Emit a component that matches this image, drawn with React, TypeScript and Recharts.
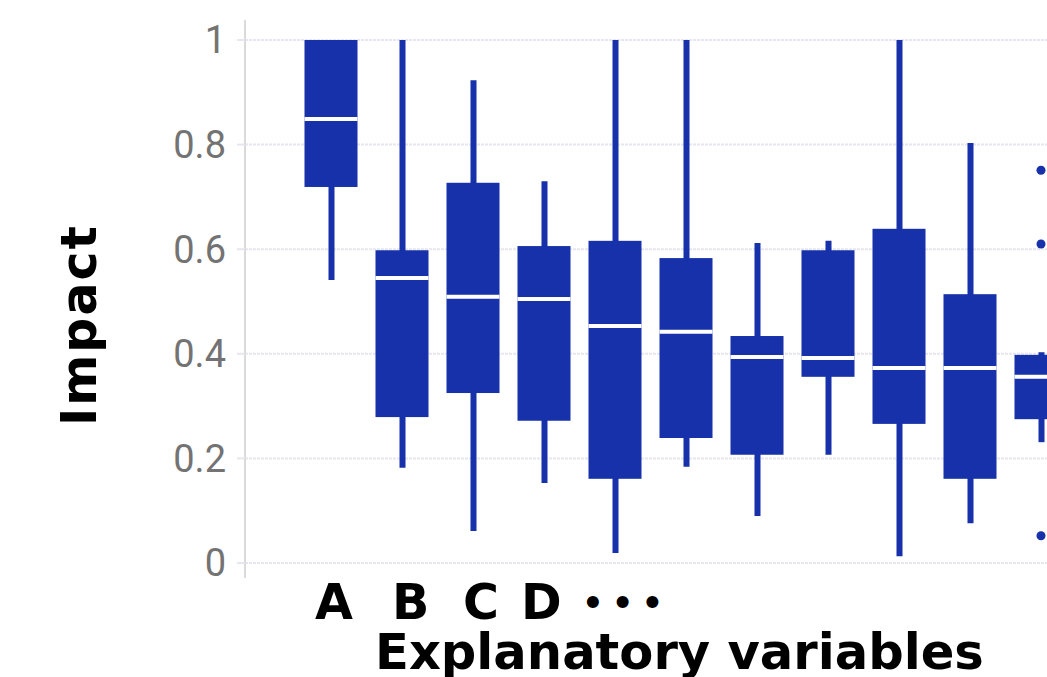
import React from 'react';
import { ComposedChart, Bar, Scatter, XAxis, YAxis, CartesianGrid } from 'recharts';

// box plot stats per explanatory variable
const categories = ['A', 'B', 'C', 'D', 'E', 'F', 'G', 'H', 'I', 'J', 'K'];
const lowWhisker = [0.541, 0.182, 0.061, 0.153, 0.019, 0.184, 0.09, 0.207, 0.013, 0.076, 0.231];
const q1 = [0.719, 0.279, 0.325, 0.272, 0.161, 0.239, 0.207, 0.356, 0.266, 0.161, 0.275];
const median = [0.849, 0.545, 0.509, 0.505, 0.453, 0.442, 0.394, 0.392, 0.373, 0.373, 0.356];
const q3 = [1.0, 0.598, 0.727, 0.606, 0.616, 0.583, 0.434, 0.598, 0.639, 0.514, 0.398];
const highWhisker = [1.0, 1.0, 0.923, 0.73, 1.0, 1.0, 0.612, 0.616, 1.0, 0.803, 0.403];

const outlierCats = ['K', 'K', 'K'];
const outlierValues = [0.751, 0.61, 0.052];

const yTicks = [0, 0.2, 0.4, 0.6, 0.8, 1];

const BLUE = '#1631a9';

const data = categories.map((name, i) => ({
  name,
  low: lowWhisker[i],
  q1: q1[i],
  median: median[i],
  q3: q3[i],
  high: highWhisker[i],
}));

const outliers = outlierCats.map((name, i) => ({ name, v: outlierValues[i] }));

const BoxShape = (props: any) => {
  const { x, y, width, height, payload } = props;
  const top = Math.min(y, y + height);
  const h = Math.abs(height);
  const span = payload.q3 - payload.q1;
  const my = span > 0 ? top + (h * (payload.q3 - payload.median)) / span : top;
  return (
    <g>
      <rect x={x} y={top} width={width} height={h} fill={BLUE} />
      <line x1={x} x2={x + width} y1={my} y2={my} stroke="#fff" strokeWidth={4} />
    </g>
  );
};

const boldFont = "'DejaVu Sans', sans-serif";

export default function App() {
  return (
    <div
      style={{
        position: 'fixed',
        left: 0,
        top: 0,
        width: 1047,
        height: 677,
        overflow: 'hidden',
        background: '#fff',
      }}
    >
      <ComposedChart
        width={1080}
        height={677}
        data={data}
        margin={{ top: 20, right: 3.5, bottom: 99, left: 0 }}
      >
        <CartesianGrid
          vertical={false}
          syncWithTicks
          stroke="#e6e6ee"
          strokeWidth={2}
          strokeDasharray="3 1"
        />
        <XAxis dataKey="name" hide padding={{ left: 50.5, right: 0 }} />
        <XAxis
          xAxisId="wh"
          dataKey="name"
          hide
          allowDuplicatedCategory={false}
          padding={{ left: 50.5, right: 0 }}
        />
        <YAxis
          width={245}
          domain={[0, 1]}
          ticks={yTicks}
          padding={{ top: 20, bottom: 15 }}
          tickSize={8}
          tickMargin={11}
          axisLine={{ stroke: '#dadada', strokeWidth: 2 }}
          tickLine={{ stroke: '#e6e6ee', strokeWidth: 2 }}
          tick={{ fill: '#737373', fontSize: 38, fontFamily: 'Roboto', fontWeight: 400 }}
          tickFormatter={(v) => String(v)}
        />
        <Bar
          xAxisId="wh"
          dataKey={(d: any) => [d.low, d.high]}
          barSize={6}
          fill={BLUE}
          isAnimationActive={false}
        />
        <Bar
          dataKey={(d: any) => [d.q1, d.q3]}
          barSize={53}
          shape={<BoxShape />}
          isAnimationActive={false}
        />
        <Scatter
          xAxisId="wh"
          data={outliers}
          dataKey="v"
          fill={BLUE}
          isAnimationActive={false}
        />
      </ComposedChart>

      <div
        style={{
          position: 'absolute',
          left: 79,
          top: 325,
          transform: 'translate(-50%, -50%) rotate(-90deg)',
          fontFamily: boldFont,
          fontWeight: 'bold',
          fontSize: 49,
          letterSpacing: 2,
          lineHeight: 1,
          whiteSpace: 'nowrap',
          color: '#000',
        }}
      >
        Impact
      </div>

      {[
        ['A', 315],
        ['B', 392],
        ['C', 463],
        ['D', 521],
      ].map(([t, left]) => (
        <div
          key={t as string}
          style={{
            position: 'absolute',
            left: left as number,
            top: 578,
            fontFamily: boldFont,
            fontWeight: 'bold',
            fontSize: 49,
            lineHeight: 1,
            color: '#000',
          }}
        >
          {t}
        </div>
      ))}
      <div
        style={{
          position: 'absolute',
          left: 582,
          top: 586,
          fontFamily: boldFont,
          fontWeight: 'bold',
          fontSize: 34,
          lineHeight: 1,
          letterSpacing: 8,
          color: '#000',
        }}
      >
        •••
      </div>

      <div
        style={{
          position: 'absolute',
          left: 375,
          top: 628,
          fontFamily: boldFont,
          fontWeight: 'bold',
          fontSize: 49.6,
          lineHeight: 1,
          whiteSpace: 'nowrap',
          color: '#000',
        }}
      >
        Explanatory variables
      </div>
    </div>
  );
}
